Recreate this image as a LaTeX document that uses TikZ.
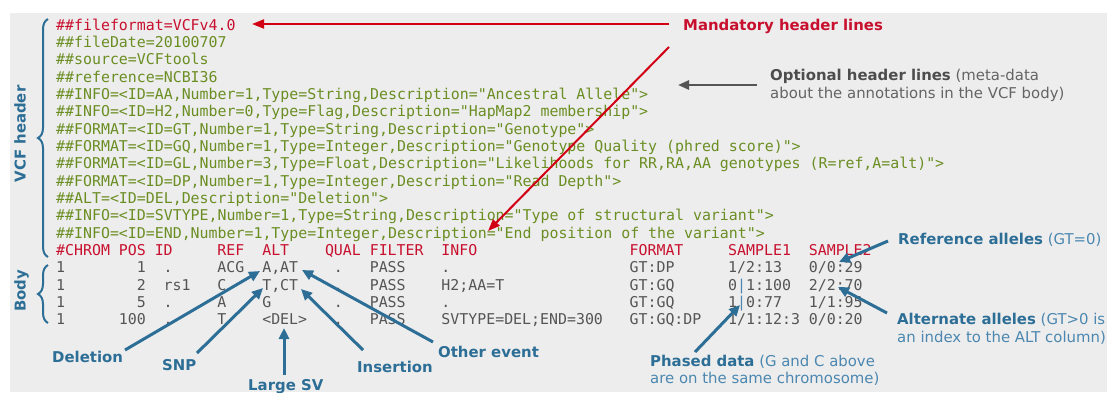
\documentclass[tikz,border=0pt]{standalone}
\usepackage{fontspec}
\setmainfont{DejaVu Sans}
\setsansfont{DejaVu Sans}
\setmonofont{DejaVu Sans Mono}
\usetikzlibrary{arrows.meta,decorations.pathreplacing}
\definecolor{bg}{RGB}{237,237,237}
\definecolor{hred}{RGB}{200,16,46}
\definecolor{hgreen}{RGB}{107,142,35}
\definecolor{bodygrey}{RGB}{85,85,85}
\definecolor{ablue}{RGB}{45,110,150}
\definecolor{lblue}{RGB}{75,135,176}
\definecolor{ared}{RGB}{210,0,20}
\definecolor{agrey}{RGB}{85,85,85}
\definecolor{tgrey}{RGB}{77,77,77}
\definecolor{tlgrey}{RGB}{100,100,100}
\newcommand\fsz{\fontsize{14.9}{17.35}\selectfont}
\newcommand\hl[4]{\node[#1] (#2) at (56,{30+#3*17.35}) {#4};}
\newcommand\fld[5]{\node[#1] (#2) at ({56+#3*8.96},{30+#4*17.35}) {#5};}
\tikzset{
  mono/.style={inner sep=0pt, anchor=base west, font=\ttfamily\fsz},
  hdr/.style={mono, text=hred},
  opt/.style={mono, text=hgreen},
  bod/.style={mono, text=bodygrey},
  lbl/.style={inner sep=0pt, anchor=base west, font=\sffamily\fsz},
  blbl/.style={lbl, text=lblue},
  bbold/.style={lbl, text=ablue, font=\sffamily\bfseries\fsz},
  glbl/.style={lbl, text=tlgrey},
  rlbl/.style={lbl, text=hred, font=\sffamily\bfseries\fsz},
  vlbl/.style={inner sep=0pt, anchor=base, rotate=90, text=ablue, font=\sffamily\bfseries\fsz},
  brc/.style={draw=ablue, line width=2pt, decorate, decoration={brace, amplitude=10pt}},
  rarrow/.style={draw=ared, line width=2pt, -{Triangle[length=12pt,width=9pt]}},
  garrow/.style={draw=agrey, line width=2.5pt, -{Triangle[length=11pt,width=9pt]}},
  barrow/.style={draw=ablue, line width=3pt, -{Triangle[length=11pt,width=10pt]}},
}
\begin{document}
\begin{tikzpicture}[x=1pt,y=-1pt]
\useasboundingbox (0,0) rectangle (1107,392);
\fill[bg] (10,13) rectangle (1107,392);
% header lines
\hl{hdr}{h0}{0}{\#\#fileformat=VCFv4.0}
\hl{opt}{h1}{1}{\#\#fileDate=20100707}
\hl{opt}{h2}{2}{\#\#source=VCFtools}
\hl{opt}{h3}{3}{\#\#reference=NCBI36}
\hl{opt}{h4}{4}{\#\#INFO=<ID=AA,Number=1,Type=String,Description="Ancestral Allele">}
\hl{opt}{h5}{5}{\#\#INFO=<ID=H2,Number=0,Type=Flag,Description="HapMap2 membership">}
\hl{opt}{h6}{6}{\#\#FORMAT=<ID=GT,Number=1,Type=String,Description="Genotype">}
\hl{opt}{h7}{7}{\#\#FORMAT=<ID=GQ,Number=1,Type=Integer,Description="Genotype Quality (phred score)">}
\hl{opt}{h8}{8}{\#\#FORMAT=<ID=GL,Number=3,Type=Float,Description="Likelihoods for RR,RA,AA genotypes (R=ref,A=alt)">}
\hl{opt}{h9}{9}{\#\#FORMAT=<ID=DP,Number=1,Type=Integer,Description="Read Depth">}
\hl{opt}{h10}{10}{\#\#ALT=<ID=DEL,Description="Deletion">}
\hl{opt}{h11}{11}{\#\#INFO=<ID=SVTYPE,Number=1,Type=String,Description="Type of structural variant">}
\hl{opt}{h12}{12}{\#\#INFO=<ID=END,Number=1,Type=Integer,Description="End position of the variant">}
% column header
\fld{hdr}{c0}{0}{13}{\#CHROM}
\fld{hdr}{c1}{7}{13}{POS}
\fld{hdr}{c2}{11}{13}{ID}
\fld{hdr}{c3}{18}{13}{REF}
\fld{hdr}{c4}{23}{13}{ALT}
\fld{hdr}{c5}{30}{13}{QUAL}
\fld{hdr}{c6}{35}{13}{FILTER}
\fld{hdr}{c7}{43}{13}{INFO}
\fld{hdr}{c8}{64}{13}{FORMAT}
\fld{hdr}{c9}{75}{13}{SAMPLE1}
\fld{hdr}{c10}{84}{13}{SAMPLE2}
% row 1
\fld{bod}{a0}{0}{14}{1}
\fld{bod}{a1}{9}{14}{1}
\fld{bod}{a2}{12}{14}{.}
\fld{bod}{a3}{18}{14}{ACG}
\fld{bod}{a4}{23}{14}{A,AT}
\fld{bod}{a5}{31}{14}{.}
\fld{bod}{a6}{35}{14}{PASS}
\fld{bod}{a7}{43}{14}{.}
\fld{bod}{a8}{64}{14}{GT:DP}
\fld{bod}{a9}{75}{14}{1/2:13}
\fld{bod}{a10}{84}{14}{0/0:29}
% row 2
\fld{bod}{b0}{0}{15}{1}
\fld{bod}{b1}{9}{15}{2}
\fld{bod}{b2}{12}{15}{rs1}
\fld{bod}{b3}{18}{15}{C}
\fld{bod}{b4}{23}{15}{T,CT}
\fld{bod}{b5}{31}{15}{.}
\fld{bod}{b6}{35}{15}{PASS}
\fld{bod}{b7}{43}{15}{H2;AA=T}
\fld{bod}{b8}{64}{15}{GT:GQ}
\fld{bod}{b9}{75}{15}{0\textcolor{lblue}{|}1:100}
\fld{bod}{b10}{84}{15}{2/2:70}
% row 3
\fld{bod}{d0}{0}{16}{1}
\fld{bod}{d1}{9}{16}{5}
\fld{bod}{d2}{12}{16}{.}
\fld{bod}{d3}{18}{16}{A}
\fld{bod}{d4}{23}{16}{G}
\fld{bod}{d5}{31}{16}{.}
\fld{bod}{d6}{35}{16}{PASS}
\fld{bod}{d7}{43}{16}{.}
\fld{bod}{d8}{64}{16}{GT:GQ}
\fld{bod}{d9}{75}{16}{1\textcolor{lblue}{|}0:77}
\fld{bod}{d10}{84}{16}{1/1:95}
% row 4
\fld{bod}{e0}{0}{17}{1}
\fld{bod}{e1}{7}{17}{100}
\fld{bod}{e2}{12}{17}{.}
\fld{bod}{e3}{18}{17}{T}
\fld{bod}{e4}{23}{17}{<DEL>}
\fld{bod}{e5}{31}{17}{.}
\fld{bod}{e6}{35}{17}{PASS}
\fld{bod}{e7}{43}{17}{SVTYPE=DEL;END=300}
\fld{bod}{e8}{64}{17}{GT:GQ:DP}
\fld{bod}{e9}{75}{17}{1/1:12:3}
\fld{bod}{e10}{84}{17}{0/0:20}
% braces and side labels
\coordinate (hbTop) at (48,19);
\coordinate (hbBot) at (48,257);
\draw[brc] (hbBot) -- (hbTop);
\coordinate (bbTop) at (48,265);
\coordinate (bbBot) at (48,323);
\draw[brc] (bbBot) -- (bbTop);
\node[vlbl] (vcfh) at (25.5,134) {VCF header};
\node[vlbl] (bodyl) at (25.5,291) {Body};
% labels
\node[rlbl] (mand) at (683,30) {Mandatory header lines};
\node[glbl] (optA) at (770,80) {\textcolor{tgrey}{\bfseries Optional header lines} (meta-data};
\node[glbl] (optB) at (770,98) {about the annotations in the VCF body)};
\node[blbl] (refl) at (898,244) {\textcolor{ablue}{\bfseries Reference alleles} (GT=0)};
\node[blbl] (altA) at (897,324) {\textcolor{ablue}{\bfseries Alternate alleles} (GT>0 is};
\node[blbl] (altB) at (897,342) {an index to the ALT column)};
\node[blbl] (phA) at (650,366) {\textcolor{ablue}{\bfseries Phased data} (G and C above};
\node[blbl] (phB) at (650,383) {are on the same chromosome)};
\node[bbold] (del) at (52,362) {Deletion};
\node[bbold] (snp) at (162,370) {SNP};
\node[bbold] (lsv) at (248,390) {Large SV};
\node[bbold] (ins) at (357,372) {Insertion};
\node[bbold] (oth) at (438,357) {Other event};
% arrow coordinates
\coordinate (m1s) at (669,24);  \coordinate (m1t) at (252,24);
\coordinate (m2s) at (669,47);  \coordinate (m2t) at (488,231);
\coordinate (o1s) at (757,85);  \coordinate (o1t) at (678,85);
\coordinate (dls) at (125,350); \coordinate (dlt) at (260,271);
\coordinate (sns) at (197,353); \coordinate (snt) at (263,288);
\coordinate (lvs) at (284,375); \coordinate (lvt) at (284,328);
\coordinate (ins1) at (363,350); \coordinate (int) at (301,289);
\coordinate (ots) at (433,342); \coordinate (ott) at (302,270);
\coordinate (phs) at (695,352); \coordinate (pht) at (740,305);
\coordinate (rfs) at (888,241); \coordinate (rft) at (839,262);
\coordinate (als) at (887,313); \coordinate (alt) at (838,287);
% arrows
\draw[rarrow] (m1s) -- (m1t);
\draw[rarrow] (m2s) -- (m2t);
\draw[garrow] (o1s) -- (o1t);
\draw[barrow] (dls) -- (dlt);
\draw[barrow] (sns) -- (snt);
\draw[barrow] (lvs) -- (lvt);
\draw[barrow] (ins1) -- (int);
\draw[barrow] (ots) -- (ott);
\draw[barrow] (phs) -- (pht);
\draw[barrow] (rfs) -- (rft);
\draw[barrow] (als) -- (alt);
\end{tikzpicture}
\end{document}
